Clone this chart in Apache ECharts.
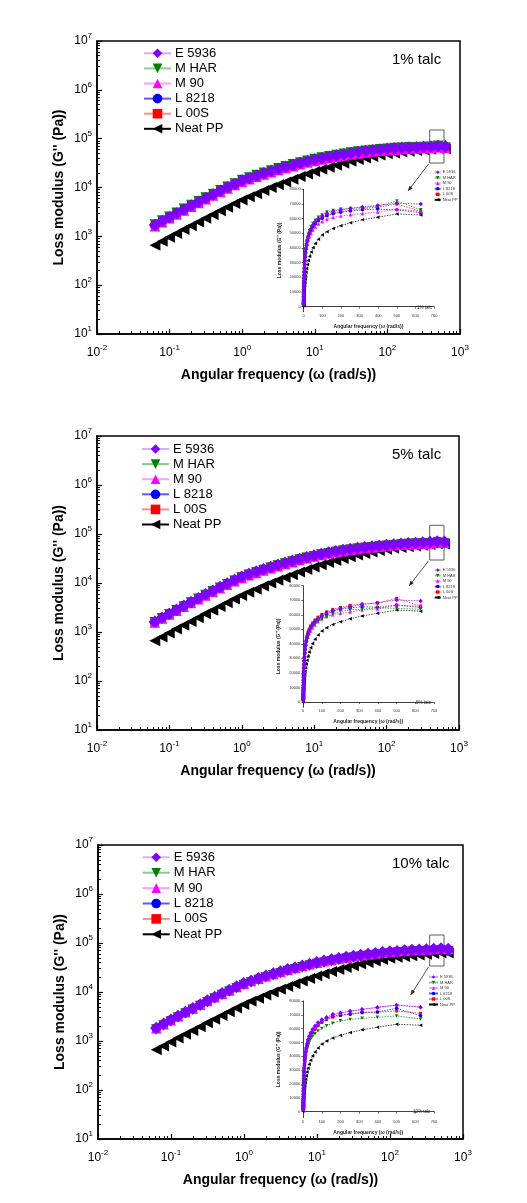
<!DOCTYPE html>
<html><head><meta charset="utf-8">
<script src="https://cdn.jsdelivr.net/npm/echarts@6/dist/echarts.min.js"></script>
<style>html,body{margin:0;padding:0;background:#fff}#c{width:527px;height:1203px}</style>
</head><body><div id="c"></div>
<script>
// ---------------- DATA ----------------
const SERIES_NAMES = ['E 5936', 'M HAR', 'M 90', 'L 8218', 'L 00S', 'Neat PP'];
const PANEL_LABELS = ['1% talc', '5% talc', '10% talc'];
const X_TICKS = [0.01, 0.1, 1, 10, 100, 1000];
const Y_TICKS = [10, 100, 1000, 10000, 100000, 1000000, 10000000];
const INSET_X_TICKS = [0, 100, 200, 300, 400, 500, 600, 700];
const INSET_Y_TICKS = [0, 10000, 20000, 30000, 40000, 50000, 60000, 70000, 80000];

const FREQ = [0.0628,0.0791,0.0995,0.125,0.158,0.199,0.251,0.315,0.397,0.500,
  0.628,0.791,0.995,1.25,1.58,1.99,2.51,3.15,3.97,5.00,
  6.28,7.91,9.95,12.5,15.8,19.9,25.1,31.5,39.7,50.0,
  62.8,79.1,99.5,125,158,199,251,315,397,500,
  628];

const NEAT_PP = [660,794,955,1146,1374,1644,1963,2344,2793,3327,
  3954,4688,5546,6457,7482,8650,9954,11400,13000,14790,
  16750,18880,21180,23550,26060,28710,31480,34360,37240,40180,
  43150,46030,48870,51100,53300,55200,57200,59200,61000,63200,
  62500];

// 1% talc
const E5936_1 = [1700,2050,2470,2970,3560,4270,5090,6070,7210,8530,
  10070,11830,13840,15600,17500,19540,21730,24040,26490,29040,
  31700,34440,37240,40000,42800,45500,48200,50800,53300,55700,
  57900,60000,61800,63500,65000,66000,67000,68000,69000,70500,
  70000];
const MHAR_1 = [1740,2100,2530,3040,3650,4380,5220,6230,7400,8750,
  10330,12130,14190,16000,17950,20040,22280,24640,27150,29760,
  32480,35280,38130,40950,43800,46500,49200,51800,54300,56700,
  58900,61000,62500,64500,65500,66400,67000,67500,68500,72000,
  66000];
const M90_1 = [1610,1940,2340,2810,3370,4040,4820,5750,6830,8080,
  9540,11200,13100,14760,16550,18470,20530,22700,25000,27380,
  29870,32420,35030,37600,40200,42700,45200,47600,49900,52200,
  54300,56300,58000,59600,61000,61800,62600,63500,64500,66500,
  65000];
const L8218_1 = [1670,2010,2420,2910,3490,4180,4990,5950,7070,8360,
  9870,11590,13560,15290,17150,19150,21290,23550,25950,28450,
  31050,33730,36470,39170,41900,44530,47160,49690,52110,54430,
  56540,58550,60200,61900,63300,64300,65200,66000,66500,66000,
  64000];
const L00S_1 = [1680,2020,2440,2930,3510,4210,5020,5990,7120,8420,
  9940,11670,13660,15400,17270,19280,21440,23720,26140,28660,
  31280,33980,36740,39460,42220,44860,47500,50060,52520,54860,
  57000,59000,60700,62400,63800,64900,65800,66800,67800,70000,
  65000];

// 5% talc
const E5936_5 = [1620,1960,2370,2850,3420,4110,4910,5870,6980,8270,
  9780,11500,13470,15200,17080,19100,21270,23560,26000,28550,
  31000,33700,36500,39200,41900,44500,47000,49400,51600,53600,
  55500,57500,59400,61300,63000,64400,65600,67000,68300,70200,
  69500];
const MHAR_5 = [1580,1910,2300,2770,3320,3980,4760,5680,6750,7990,
  9440,11100,12990,14660,16460,18400,20480,22690,25030,27480,
  30020,32640,35310,37960,40560,43070,45470,47750,49880,51850,
  53650,55300,56900,58400,60500,62400,63300,63800,64800,64400,
  63800];
const M90_5 = [1560,1880,2270,2730,3270,3920,4680,5580,6630,7840,
  9260,10880,12720,14340,16080,17950,19950,22070,24310,26660,
  29400,32000,34600,37200,39800,42300,44700,46900,48900,50900,
  53000,55200,57300,58800,60000,61000,61900,63300,64000,66500,
  66000];
const L8218_5 = [1590,1920,2320,2790,3350,4020,4800,5730,6810,8060,
  9530,11210,13120,14820,16650,18620,20740,22990,25380,27880,
  30480,33160,35900,38620,41300,43900,46400,48800,51000,53100,
  55000,56900,58700,60400,62200,64000,64700,65600,65100,66700,
  65000];
const L00S_5 = [1600,1940,2350,2830,3400,4090,4890,5850,6960,8250,
  9760,11480,13450,15200,17100,19150,21350,23700,26150,28720,
  31400,34150,36950,39700,42450,45100,47650,50050,52300,54400,
  56400,58400,60200,62000,63700,65100,66500,67400,68000,71300,
  66000];

// 10% talc
const E5936_10 = [1850,2240,2700,3250,3900,4680,5590,6680,7950,9400,
  10950,12880,15080,17020,19110,21350,23760,26300,29000,31800,
  34500,37400,40300,43200,46100,49000,51800,54500,57100,59600,
  62000,64500,66700,68200,70400,71600,72800,74000,75400,77100,
  75400];
const MHAR_10 = [1720,2080,2510,3020,3620,4340,5180,6180,7350,8700,
  10100,11880,13900,15690,17610,19670,21890,24220,26710,29280,
  31740,34410,37080,39740,42400,45060,47570,50000,52310,54550,
  56300,58300,60200,62200,63900,65800,66700,67500,68200,69200,
  67000];
const M90_10 = [1820,2200,2660,3200,3840,4600,5500,6560,7810,9240,
  10740,12620,14780,16680,18730,20920,23280,25770,28420,31160,
  33800,36650,39500,42350,45200,48050,50800,53450,56000,58500,
  61000,63500,65800,67500,69800,71200,72500,73800,75400,77100,
  76000];
const L8218_10 = [1800,2180,2640,3170,3800,4560,5440,6500,7740,9150,
  10640,12500,14650,16540,18560,20740,23070,25540,28160,30870,
  33460,36280,39090,41900,44720,47530,50250,52870,55390,57810,
  60100,62800,65000,67200,69000,69900,70600,71800,72000,74700,
  69400];
const L00S_10 = [1780,2160,2610,3140,3770,4520,5400,6440,7660,9060,
  10530,12380,14500,16360,18370,20520,22830,25270,27860,30550,
  33120,35900,38690,41470,44260,47040,49730,52320,54820,57220,
  59500,62000,64500,66500,68300,69500,70400,71500,72000,72800,
  71100];

const PANEL_DATA = [
  [E5936_1, MHAR_1, M90_1, L8218_1, L00S_1, NEAT_PP],
  [E5936_5, MHAR_5, M90_5, L8218_5, L00S_5, NEAT_PP],
  [E5936_10, MHAR_10, M90_10, L8218_10, L00S_10, NEAT_PP]
];

// ---------------- STYLE / LAYOUT ----------------
const FONT = '"Liberation Sans", Arial, Helvetica, sans-serif';
const STY = [
  {symbol:'diamond',  color:'#8000FF', line:'#D6B0FF', size:12.5, isize:4.5, rot:0},
  {symbol:'triangle', color:'#008000', line:'#8CC98C', size:10.5, isize:3.5, rot:180},
  {symbol:'triangle', color:'#FF00FF', line:'#FF9CFF', size:10.5, isize:3.5, rot:0},
  {symbol:'circle',   color:'#0000FF', line:'#5A5AFF', size:9.5, isize:3.5, rot:0},
  {symbol:'rect',     color:'#FF0000', line:'#FF8A8A', size:8.5, isize:3,   rot:0},
  {symbol:'triangle', color:'#000000', line:'#000000', size:11, isize:3.5, rot:90}
];
const MAIN = [ {l:97, t:41, w:363, h:293}, {l:97, t:436, w:362, h:294}, {l:98, t:845, w:365, h:294} ];
const INSET = [ {l:302.7, t:189.3, w:131.5, h:122.4, ymin:-3400},
                {l:302.3, t:585.7, w:131.7, h:121.6, ymin:-3650},
                {l:302.3, t:1001,  w:131.7, h:116.7, ymin:-4300} ];

function minorOf(decades){
  const out=[];
  for(let i=0;i<decades.length-1;i++){ for(let m=2;m<=9;m++){ out.push(+(decades[i]*m).toPrecision(6)); } }
  return out;
}
const X_MINOR = minorOf(X_TICKS), Y_MINOR = minorOf(Y_TICKS);
const supFmt = v => '{b|10}{s|' + Math.round(Math.log10(v)) + '}';
const RICH = { b:{fontSize:12, lineHeight:18, fontFamily:FONT, color:'#000'},
               s:{fontSize:8, lineHeight:8, verticalAlign:'top', fontFamily:FONT, color:'#000'} };
const plainFmt = v => String(Math.round(v));

const grids=[], xAxes=[], yAxes=[], series=[], legends=[], graphics=[];

MAIN.forEach((p,k)=>{
  const ins = INSET[k];
  grids.push({left:p.l, top:p.t, width:p.w, height:p.h, show:true, borderColor:'#000', borderWidth:1.5, backgroundColor:'transparent'});
  grids.push({left:ins.l, top:ins.t, width:ins.w, height:ins.h});
  const gm = 2*k, gi = 2*k+1;
  const xM = xAxes.length, yM = yAxes.length;
  xAxes.push({type:'log', logBase:10, gridIndex:gm, position:'bottom', min:0.01, max:1000,
    axisLine:{lineStyle:{color:'#000', width:1.5}},
    axisTick:{inside:true, length:5, customValues:X_TICKS, lineStyle:{color:'#000', width:1.2}},
    axisLabel:{customValues:X_TICKS, formatter:supFmt, rich:RICH, margin:10},
    splitLine:{show:false},
    name:'Angular frequency (\u03C9 (rad/s))', nameLocation:'middle', nameGap:34, nameMoveOverlap:false,
    nameTextStyle:{fontFamily:FONT, fontWeight:'bold', fontSize:14, color:'#000'}});
  xAxes.push({type:'log', logBase:10, gridIndex:gm, position:'bottom', offset:0, min:0.01, max:1000,
    axisLine:{show:false}, axisLabel:{show:false}, splitLine:{show:false},
    axisTick:{inside:true, length:3, customValues:X_MINOR, lineStyle:{color:'#000', width:1}}});
  xAxes.push({type:'value', gridIndex:gi, position:'bottom', min:-5, max:700,
    axisLine:{lineStyle:{color:'#111', width:0.8}},
    axisTick:{length:2, customValues:INSET_X_TICKS, lineStyle:{color:'#111', width:0.6}},
    axisLabel:{customValues:INSET_X_TICKS, formatter:plainFmt, fontSize:4, fontFamily:FONT, color:'#333', margin:2},
    splitLine:{show:false},
    name:'Angular frequency (\u03C9 (rad/s))', nameLocation:'middle', nameGap:12, nameMoveOverlap:false,
    nameTextStyle:{fontFamily:FONT, fontWeight:'bold', fontSize:5, color:'#222'}});

  yAxes.push({type:'log', logBase:10, gridIndex:gm, position:'left', min:10, max:1e7,
    axisLine:{lineStyle:{color:'#000', width:1.5}},
    axisTick:{inside:true, length:5, customValues:Y_TICKS, lineStyle:{color:'#000', width:1.2}},
    axisLabel:{customValues:Y_TICKS, formatter:supFmt, rich:RICH, margin:5},
    splitLine:{show:false},
    name:"Loss modulus (G'' (Pa))", nameLocation:'middle', nameGap:31, nameRotate:90, nameMoveOverlap:false,
    nameTextStyle:{fontFamily:FONT, fontWeight:'bold', fontSize:14, color:'#000'}});
  yAxes.push({type:'log', logBase:10, gridIndex:gm, position:'left', offset:0, min:10, max:1e7,
    axisLine:{show:false}, axisLabel:{show:false}, splitLine:{show:false},
    axisTick:{inside:true, length:3, customValues:Y_MINOR, lineStyle:{color:'#000', width:1}}});
  yAxes.push({type:'value', gridIndex:gi, position:'left', min:ins.ymin, max:80000,
    axisLine:{lineStyle:{color:'#111', width:0.8}},
    axisTick:{length:2, customValues:INSET_Y_TICKS, lineStyle:{color:'#111', width:0.6}},
    axisLabel:{customValues:INSET_Y_TICKS, formatter:plainFmt, fontSize:4, fontFamily:FONT, color:'#333', margin:2},
    splitLine:{show:false},
    name:"Loss modulus (G'' (Pa))", nameLocation:'middle', nameGap:21, nameRotate:90, nameMoveOverlap:false,
    nameTextStyle:{fontFamily:FONT, fontWeight:'bold', fontSize:5, color:'#222'}});

  const vals = PANEL_DATA[k];
  // main series (drawn Neat PP first, E 5936 last/on top)
  for(let s=5;s>=0;s--){
    const st = STY[s];
    series.push({type:'line', name:SERIES_NAMES[s], xAxisIndex:xM, yAxisIndex:yM,
      data:FREQ.map((f,i)=>[f, vals[s][i]]),
      symbol:st.symbol, symbolSize:st.size, symbolRotate:st.rot,
      itemStyle:{color:st.color}, lineStyle:{color:st.line, width:2},
      emphasis:{disabled:true}, silent:true, animation:false});
  }
  for(let s=5;s>=0;s--){
    const st = STY[s];
    series.push({type:'line', name:SERIES_NAMES[s], xAxisIndex:xM+2, yAxisIndex:yM+2,
      data:FREQ.map((f,i)=>[f, vals[s][i]]),
      symbol:st.symbol, symbolSize:st.isize, symbolRotate:st.rot,
      itemStyle:{color:st.color}, lineStyle:{color:st.color, width:0.7, type:[1.5,1.2]},
      emphasis:{disabled:true}, silent:true, animation:false});
  }

  // main legend
  const legLeft = [143, 141, 141.7][k];
  const legTop = [46.3, 442, 850.3][k];
  legends.push({data:SERIES_NAMES, orient:'vertical', left:legLeft, top:legTop, padding:0,
    itemWidth:27, itemHeight:12, itemGap:[1.1,1.1,1.4][k], selectedMode:false,
    textStyle:{fontFamily:FONT, fontSize:13, color:'#000', lineHeight:14, padding:[0,0,0,-1]}});
  // inset legend
  const iLeft = [433.7, 433.7, 428][k];
  const iTop = [170.3, 568, 975][k];
  legends.push({data:SERIES_NAMES, orient:'vertical', left:iLeft, top:iTop, padding:0,
    itemWidth:[6,6,9][k], itemHeight:4.2, itemGap:1.5, selectedMode:false,
    textStyle:{fontFamily:FONT, fontSize:4, color:'#333', lineHeight:4, padding:[0,0,0,-3]}});

  // annotations
  graphics.push({type:'text', x:392, y:p.t+18.5, style:{text:PANEL_LABELS[k], fontFamily:FONT, fontSize:15, fill:'#000', verticalAlign:'middle'}});
  graphics.push({type:'text', x:[417,416,413][k], y:p.t+266.5, style:{text:PANEL_LABELS[k], fontFamily:FONT, fontSize:4.5, fill:'#333', verticalAlign:'middle'}});
  const rT = p.t + [89,89.3,90][k], rB = p.t + [122,124,121][k];
  graphics.push({type:'rect', shape:{x:429.7, y:rT, width:14.3, height:rB-rT}, style:{fill:'none', stroke:'#333', lineWidth:0.8}});
  const x1 = 428.5, y1 = rB + 1, x2 = [408,409,410.7][k], y2 = p.t + 150;
  graphics.push({type:'line', shape:{x1:x1, y1:y1, x2:x2, y2:y2}, style:{stroke:'#222', lineWidth:0.8}});
  const ang = Math.atan2(y2-y1, x2-x1), L = 5, Wd = 2;
  const bx = x2 - L*Math.cos(ang), by = y2 - L*Math.sin(ang);
  graphics.push({type:'polygon', shape:{points:[[x2,y2],[bx - Wd*Math.sin(ang), by + Wd*Math.cos(ang)],[bx + Wd*Math.sin(ang), by - Wd*Math.cos(ang)]]}, style:{fill:'#222'}});
});

const chart = echarts.init(document.getElementById('c'), null, {renderer:'canvas', width:527, height:1203});
chart.setOption({
  animation:false, backgroundColor:'#fff',
  grid:grids, xAxis:xAxes, yAxis:yAxes, series:series, legend:legends,
  graphic:{elements:graphics}
});
</script></body></html>
